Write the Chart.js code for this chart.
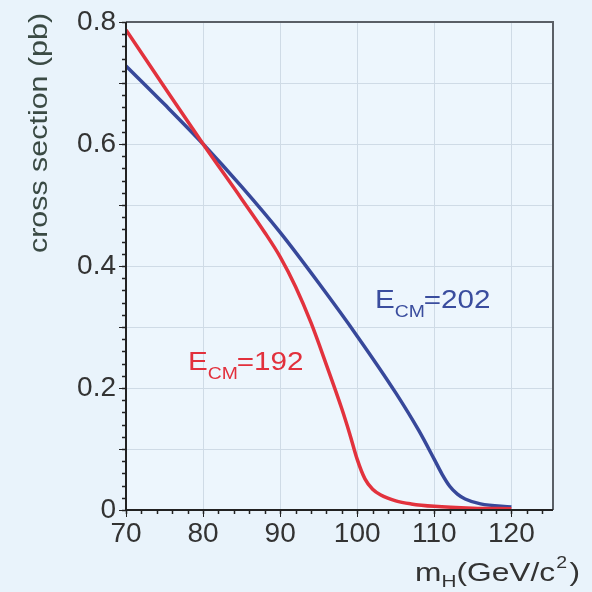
<!DOCTYPE html>
<html>
<head>
<meta charset="utf-8">
<script src="https://cdn.jsdelivr.net/npm/chart.js@4"></script>
<style>
  html, body { margin: 0; padding: 0; background: #e9f3fb; }
  #wrap { width: 592px; height: 592px; }
</style>
</head>
<body>
<div id="wrap"><canvas id="myChart" width="592" height="592"></canvas></div>
<script>
// data
var massRed = [70, 75, 80, 85, 88, 90, 92, 94, 96, 98, 99, 100, 101, 102, 103, 105, 107, 110, 115, 120];
var xsecRed = [0.787, 0.693, 0.6, 0.51, 0.455, 0.415, 0.366, 0.307, 0.238, 0.166, 0.126, 0.083, 0.051, 0.034, 0.025, 0.015, 0.01, 0.006, 0.003, 0.002];
var massBlue = [70, 75, 80, 85, 90, 95, 100, 105, 108, 110, 111, 112, 113, 114, 116, 120];
var xsecBlue = [0.728, 0.665, 0.6, 0.53, 0.455, 0.372, 0.285, 0.192, 0.13, 0.083, 0.059, 0.039, 0.026, 0.018, 0.01, 0.005];
var xTicks = [70, 80, 90, 100, 110, 120];
var yTicks = [0, 0.1, 0.2, 0.3, 0.4, 0.5, 0.6, 0.7, 0.8];
var yLabels = ['0', '', '0.2', '', '0.4', '', '0.6', '', '0.8'];
var seriesLabels = [{ sub: 'CM', rest: '=192', x: 78.05, y: 0.23, color: '#e2303c' },
                    { sub: 'CM', rest: '=202', x: 102.3, y: 0.331, color: '#3a4d9e' }];

function pts(xs, ys) {
  return xs.map(function (v, i) { return { x: v, y: ys[i] }; });
}

var red = '#e2323d';
var blue = '#37489a';
var font = '"Liberation Sans", Arial, sans-serif';

var decor = {
  id: 'decor',
  beforeDraw: function (chart) {
    var c = chart.ctx, a = chart.chartArea;
    c.save();
    c.fillStyle = '#e9f3fb';
    c.fillRect(0, 0, chart.width, chart.height);
    c.fillStyle = '#edf6fd';
    c.fillRect(a.left, a.top, a.right - a.left, a.bottom - a.top);
    c.restore();
  },
  afterDraw: function (chart) {
    var c = chart.ctx, a = chart.chartArea;
    var xs = chart.scales.x, ys = chart.scales.y;
    c.save();
    // frame
    c.strokeStyle = '#5a5f66';
    c.lineWidth = 2;
    c.beginPath();
    c.moveTo(a.left, a.top); c.lineTo(a.right, a.top); c.lineTo(a.right, a.bottom);
    c.stroke();
    c.strokeStyle = '#222';
    c.beginPath();
    c.moveTo(a.left, a.top); c.lineTo(a.left, a.bottom); c.lineTo(a.right, a.bottom);
    c.stroke();
    // minor ticks
    c.lineWidth = 1.5;
    c.beginPath();
    for (var v = 0; v <= 0.8001; v += 0.02) {
      var py = Math.round(ys.getPixelForValue(v)) + 0.5;
      c.moveTo(a.left - 4, py); c.lineTo(a.left, py);
    }
    for (var m = 70; m <= 125; m += 2) {
      var px = Math.round(xs.getPixelForValue(m)) + 0.5;
      c.moveTo(px, a.bottom); c.lineTo(px, a.bottom + 4);
    }
    c.stroke();
    c.textBaseline = 'alphabetic';
    // series labels
    seriesLabels.forEach(function (l) {
      c.save();
      c.translate(xs.getPixelForValue(l.x), ys.getPixelForValue(l.y));
      c.scale(1.14, 1);
      c.fillStyle = l.color;
      c.font = '26px ' + font;
      c.fillText('E', 0, 0);
      var w = c.measureText('E').width;
      c.font = '17px ' + font;
      c.fillText(l.sub, w, 9);
      var w2 = c.measureText(l.sub).width;
      c.font = '26px ' + font;
      c.fillText(l.rest, w + w2 - 1, 0);
      c.restore();
    });
    // x title
    c.save();
    c.translate(415, 581);
    c.scale(1.22, 1);
    c.fillStyle = '#333';
    var tx = 0;
    c.font = '26px ' + font;
    c.fillText('m', tx, 0);
    tx += c.measureText('m').width;
    c.font = '17px ' + font;
    c.fillText('H', tx, 6);
    tx += c.measureText('H').width;
    c.font = '26px ' + font;
    c.fillText('(GeV/c', tx, 0);
    tx += c.measureText('(GeV/c').width;
    c.font = '16px ' + font;
    c.fillText('2', tx + 1, -13);
    tx += c.measureText('2').width + 3;
    c.font = '26px ' + font;
    c.fillText(')', tx, 0);
    c.restore();
    // y title
    c.translate(47, 133);
    c.rotate(-Math.PI / 2);
    c.scale(1.17, 1);
    c.fillStyle = '#3a4a44';
    c.font = '26px ' + font;
    c.textAlign = 'center';
    c.fillText('cross section (pb)', 0, 0);
    c.restore();
  }
};

new Chart(document.getElementById('myChart'), {
  type: 'line',
  data: {
    datasets: [{
      label: 'ECM=192',
      data: pts(massRed, xsecRed),
      borderColor: red,
      borderWidth: 3.5,
      pointRadius: 0,
      cubicInterpolationMode: 'monotone',
      fill: false
    }, {
      label: 'ECM=202',
      data: pts(massBlue, xsecBlue),
      borderColor: blue,
      borderWidth: 3.5,
      pointRadius: 0,
      cubicInterpolationMode: 'monotone',
      fill: false
    }]
  },
  options: {
    responsive: false,
    animation: false,
    layout: { padding: { left: 0, top: 22, right: 39, bottom: 0 } },
    plugins: { legend: { display: false }, tooltip: { enabled: false } },
    scales: {
      x: {
        type: 'linear',
        min: 70,
        max: 125.4,
        afterBuildTicks: function (s) { s.ticks = xTicks.map(function (v) { return { value: v }; }); },
        afterFit: function (s) { s.height = 82; },
        border: { display: false },
        grid: { color: '#cfdbe6', lineWidth: 1, tickColor: '#222', tickLength: 7 },
        ticks: { color: '#333', font: { family: font, size: 28 }, padding: 0, maxRotation: 0 }
      },
      y: {
        min: 0,
        max: 0.8,
        afterBuildTicks: function (s) { s.ticks = yTicks.map(function (v) { return { value: v }; }); },
        afterFit: function (s) { s.width = 126; },
        border: { display: false },
        grid: { color: '#cfdbe6', lineWidth: 1, tickColor: '#222', tickLength: 7 },
        ticks: {
          color: '#333',
          font: { family: font, size: 28 },
          padding: 3,
          callback: function (v, i) { return yLabels[i]; }
        }
      }
    }
  },
  plugins: [decor]
});
</script>
</body>
</html>
